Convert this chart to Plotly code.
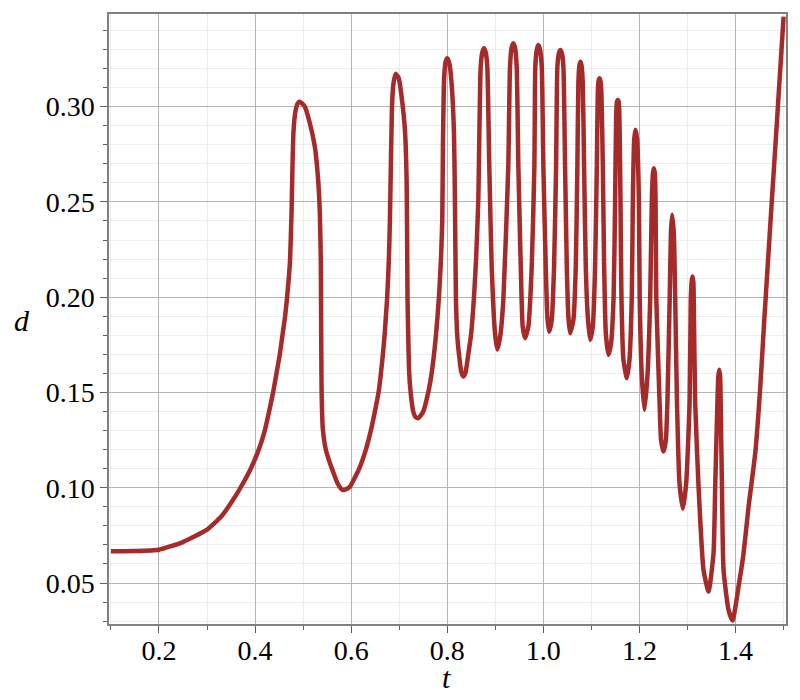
import plotly.graph_objects as go

# curve (t, d)
t_vals = [
    0.100, 0.150, 0.200, 0.250, 0.300, 0.330, 0.354, 0.3696, 0.391, 0.4077,
    0.4202, 0.4292, 0.4375, 0.4446, 0.4515, 0.457, 0.4625, 0.4667, 0.4702, 0.4729,
    0.476, 0.478, 0.480, 0.484, 0.489, 0.4931, 0.5035, 0.514, 0.5244, 0.5313,
    0.5348, 0.5369, 0.5375, 0.538, 0.5385, 0.541, 0.5473, 0.5556, 0.564, 0.5723,
    0.5821, 0.591, 0.5973, 0.6167, 0.6306, 0.641, 0.6494, 0.657, 0.6619,
    0.666, 0.6696, 0.6723, 0.675, 0.6785, 0.6806, 0.6827, 0.685, 0.688, 0.6925,
    0.699, 0.705, 0.7119, 0.7154, 0.7165, 0.7172, 0.7188, 0.7208, 0.7238, 0.7292,
    0.734, 0.7396, 0.745, 0.750, 0.7604, 0.7675, 0.7765, 0.7827, 0.7869, 0.7896,
    0.791, 0.7935, 0.7965, 0.800, 0.8045, 0.809, 0.814, 0.816, 0.818, 0.8208,
    0.8244, 0.829, 0.8333, 0.838, 0.8438, 0.8494, 0.8556, 0.860, 0.8646, 0.8696,
    0.873, 0.8765, 0.880, 0.8833, 0.8875, 0.8925, 0.8994, 0.9042, 0.910, 0.9167,
    0.927, 0.9306, 0.934, 0.9375, 0.941, 0.9445, 0.948, 0.953, 0.957, 0.9619,
    0.9688, 0.9758, 0.9813, 0.9833, 0.9865, 0.9896, 0.993, 0.9967, 1.000, 1.005,
    1.0083, 1.0119, 1.0175, 1.0223, 1.0265, 1.0292, 1.0323, 1.0354, 1.0386, 1.0417,
    1.0452, 1.0488, 1.0521, 1.0556, 1.0625, 1.0675, 1.0708, 1.0729, 1.075, 1.0771,
    1.0795, 1.082, 1.0848, 1.0883, 1.0925, 1.0973, 1.1029, 1.1077, 1.1113, 1.1133,
    1.115, 1.1167, 1.1188, 1.1208, 1.1238, 1.1265, 1.1300, 1.1354, 1.1410, 1.1462,
    1.1494, 1.1515, 1.1532, 1.155, 1.1568, 1.1583, 1.1605, 1.1625, 1.1667, 1.1738,
    1.1792, 1.1840, 1.1863, 1.189, 1.1917, 1.1952, 1.1988, 1.2005, 1.205, 1.2104,
    1.2165, 1.2223, 1.2258, 1.228, 1.230, 1.232, 1.2335, 1.2350, 1.2417, 1.245,
    1.250, 1.255, 1.2583, 1.2630, 1.2655, 1.268, 1.2715, 1.2744, 1.278, 1.2833,
    1.2904, 1.2973, 1.3045, 1.3068, 1.3088, 1.3104, 1.3122, 1.3135, 1.3160, 1.323,
    1.3333, 1.3438, 1.3542, 1.3577, 1.3613, 1.364, 1.366, 1.368, 1.3696, 1.3717,
    1.375, 1.3854, 1.3938, 1.4063, 1.4167, 1.4271, 1.441, 1.4515, 1.4598, 1.4752,
    1.4877, 1.500,
]
d_vals = [
    0.0667, 0.0668, 0.0675, 0.0715, 0.0780, 0.0850, 0.0936, 0.1000, 0.1100, 0.1200,
    0.1300, 0.1400, 0.1500, 0.1600, 0.1700, 0.1800, 0.1900, 0.2000, 0.2100, 0.2200,
    0.2450, 0.2700, 0.2870, 0.2975, 0.3018, 0.3026, 0.3000, 0.2913, 0.2790, 0.2615,
    0.2441, 0.2178, 0.1881, 0.1650, 0.1500, 0.1310, 0.1199, 0.1131, 0.1073, 0.1020,
    0.0989, 0.0994, 0.1005, 0.1100, 0.1200, 0.1300, 0.1400, 0.1500, 0.1600,
    0.1700, 0.1800, 0.1900, 0.2000, 0.2200, 0.2400, 0.2700, 0.3000, 0.3120, 0.3172,
    0.3150, 0.3052, 0.2878, 0.2615, 0.2300, 0.2000, 0.1800, 0.1600, 0.1500, 0.1400,
    0.1370, 0.1365, 0.1380, 0.1400, 0.1500, 0.1600, 0.1800, 0.2000, 0.2200, 0.2400,
    0.2800, 0.3150, 0.3235, 0.3254, 0.3225, 0.3123, 0.2860, 0.2500, 0.2000, 0.1800,
    0.1700, 0.1610, 0.1584, 0.1605, 0.1700, 0.1800, 0.2000, 0.2200, 0.2510, 0.3210,
    0.3285, 0.3306, 0.3285, 0.3210, 0.2685, 0.2161, 0.1811, 0.1725, 0.1790, 0.1986,
    0.2685, 0.3210, 0.3310, 0.3333, 0.3310, 0.3210, 0.2685, 0.2161, 0.1846, 0.1785,
    0.1846, 0.2161, 0.2685, 0.3210, 0.3300, 0.3323, 0.3300, 0.3210, 0.2685, 0.2161,
    0.1898, 0.1819, 0.1881, 0.2161, 0.2685, 0.3210, 0.3280, 0.3297, 0.3280, 0.3210,
    0.2685, 0.2161, 0.1898, 0.1811, 0.1881, 0.2161, 0.2685, 0.3123, 0.3215, 0.3236,
    0.3215, 0.3123, 0.2685, 0.2161, 0.1898, 0.1776, 0.1846, 0.2161, 0.2685, 0.3070,
    0.3135, 0.3149, 0.3135, 0.3070, 0.2685, 0.2161, 0.1811, 0.1697, 0.1760, 0.2000,
    0.2511, 0.2948, 0.3025, 0.3035, 0.3025, 0.2948, 0.2511, 0.2000, 0.1671, 0.1575,
    0.1671, 0.2000, 0.2511, 0.2825, 0.2878, 0.2825, 0.2511, 0.2000, 0.1583, 0.1409,
    0.1583, 0.1986, 0.2511, 0.2650, 0.2677, 0.2650, 0.2511, 0.2000, 0.1461, 0.1250,
    0.1190, 0.1250, 0.1461, 0.2000, 0.2336, 0.2432, 0.2336, 0.2000, 0.1461, 0.1024,
    0.0890, 0.1024, 0.1461, 0.1986, 0.2085, 0.2108, 0.2080, 0.1881, 0.1444, 0.1006,
    0.0569, 0.0455, 0.0657, 0.1006, 0.1356, 0.1580, 0.1619, 0.1580, 0.1356, 0.1006,
    0.0569, 0.0359, 0.0303, 0.0482, 0.0657, 0.0901, 0.1182, 0.1531, 0.1881, 0.2493,
    0.2983, 0.3472,
]

serif = "Liberation Serif"
curve_color = "rgb(165,42,42)"

fig = go.Figure()
fig.add_trace(go.Scatter(
    x=t_vals, y=d_vals, mode="lines",
    line=dict(color=curve_color, width=4.5, shape="spline", smoothing=0.5),
    showlegend=False, hoverinfo="skip",
))

axis_common = dict(
    showline=True, linecolor="#808080", linewidth=1.5, mirror=True,
    showgrid=True, gridcolor="#b4b4b4", gridwidth=1,
    ticks="outside", ticklen=7, tickcolor="#606060", tickwidth=1,
    tickfont=dict(family=serif, size=28, color="black"),
    zeroline=False, automargin=False,
)

fig.update_xaxes(
    range=[0.096, 1.505], tick0=0, dtick=0.2, tickformat=".1f",
    ticklabelstandoff=-6,
    minor=dict(dtick=0.1, showgrid=True, gridcolor="#ececec", ticks="outside",
               ticklen=4, tickcolor="#606060"),
    **axis_common,
)
fig.update_yaxes(
    range=[0.0285, 0.3486], tick0=0, dtick=0.05, tickformat=".2f",
    minor=dict(dtick=0.01, showgrid=True, gridcolor="#ececec", ticks="outside",
               ticklen=4, tickcolor="#606060"),
    **axis_common,
)

# axis names sit horizontally, like the reference
fig.add_annotation(text="d", xref="paper", yref="paper", x=-0.1285, y=0.498,
                   xanchor="center", yanchor="middle", showarrow=False,
                   font=dict(family=serif, size=30, color="black"))
fig.add_annotation(text="t", xref="paper", yref="paper", x=0.499, y=-0.087,
                   xanchor="center", yanchor="middle", showarrow=False,
                   font=dict(family=serif, size=30, color="black"))
fig.update_annotations(font_style="italic")

# the page body adds an 8px offset, so the margins make up for it
fig.update_layout(
    width=800, height=700,
    margin=dict(l=101, r=22, t=6, b=84),
    paper_bgcolor="white", plot_bgcolor="white",
)

fig.write_html("out.html")
